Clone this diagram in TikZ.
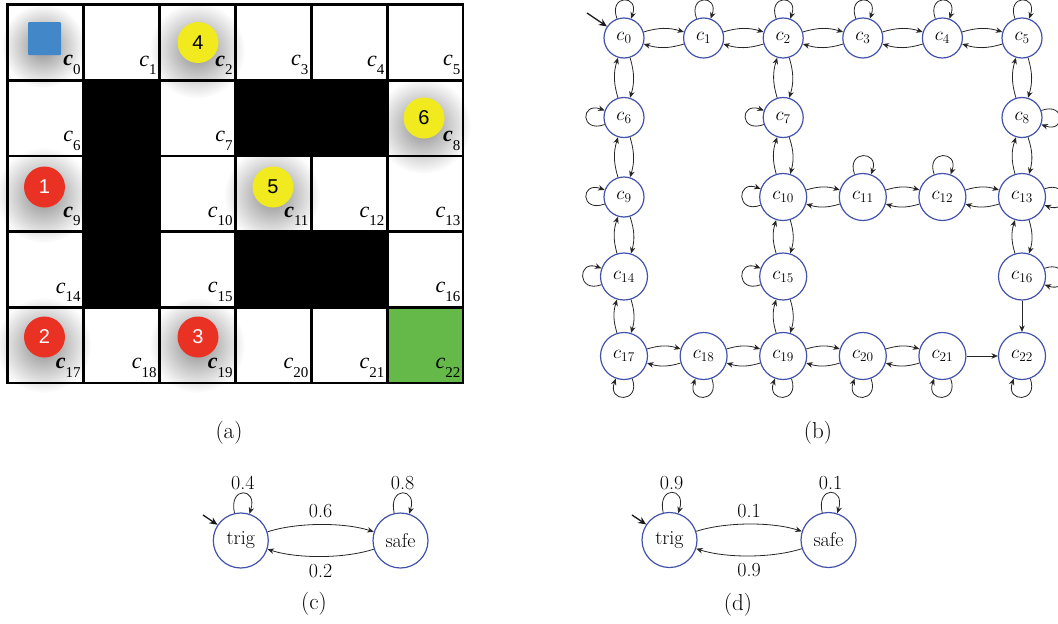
\RequirePackage{fix-cm}
\documentclass[tikz,border=0pt]{standalone}
\usepackage{fontspec}
\newfontfamily\tms{Liberation Serif}
\newfontfamily\sanf{Liberation Sans}
\usetikzlibrary{arrows.meta,fadings}
\definecolor{stblue}{RGB}{66,82,170}
\definecolor{tokred}{RGB}{234,50,36}
\definecolor{tokyel}{RGB}{240,234,30}
\definecolor{tokblue}{RGB}{66,136,200}
\definecolor{goalgreen}{RGB}{100,185,72}
\tikzfading[name=shadowfade, inner color=transparent!0, outer color=transparent!100]
\newcommand\glabtext[2]{{\tms\fontsize{22}{22}\selectfont#2\itshape c\raisebox{-8.5pt}{\fontsize{15}{15}\selectfont\mdseries\upshape #1}}}
\tikzset{
  gridline/.style={line width=2.8pt, line cap=rect},
  st/.style={circle, draw=stblue, line width=1.2pt, minimum size=40pt, inner sep=0pt, font=\fontsize{19}{23}\selectfont},
  stt/.style={st, minimum size=47pt},
  big/.style={circle, draw=stblue, line width=1.2pt, minimum size=55pt, inner sep=0pt, font=\fontsize{20}{24}\selectfont},
  tr/.style={-{Stealth[length=6.5pt,width=5.5pt]}, line width=0.8pt, draw=black!85},
  initarr/.style={-{Stealth[length=8pt,width=7pt]}, line width=1.3pt, draw=black!90},
  la/.style={out=110, in=70, distance=26pt},
  ll/.style={out=200, in=160, distance=26pt},
  lr/.style={out=20, in=-20, distance=26pt},
  lb/.style={out=-70, in=250, distance=26pt},
  lbig/.style={out=103, in=72, distance=28pt},
  prob/.style={font=\fontsize{20}{24}\selectfont, inner sep=3pt},
  capt/.style={font=\fontsize{23}{27}\selectfont},
  token/.style={circle, minimum size=41pt, inner sep=0pt, font=\sanf\fontsize{20}{24}\selectfont},
  shad/.style={black, opacity=0.45, path fading=shadowfade}
}
\begin{document}
\begin{tikzpicture}[x=1pt,y=1pt]
\useasboundingbox (0,0) rectangle (1058,-624);
% ---------------- (a) grid world ----------------
% shadows
\fill[shad] (43,-46) circle (42);
\foreach \x/\y in {198/-42.5, 424/-118, 44.5/-187, 273/-187, 44.5/-337, 198/-337}
  \fill[shad] (\x-1,\y-8) circle (48);
% obstacles and goal
\foreach \r/\c in {1/1,2/1,3/1,1/3,1/4,3/3,3/4}
  \fill[black] ({7.5+75.92*\c},{-4.5-75.7*\r}) rectangle ({7.5+75.92*(\c+1)},{-4.5-75.7*(\r+1)});
\fill[goalgreen] ({7.5+75.92*5},{-4.5-75.7*4}) rectangle ({7.5+75.92*6},{-4.5-75.7*5});
% grid lines
\foreach \i in {0,...,6}
  \draw[gridline] ({7.5+75.92*\i},-4.5) -- ({7.5+75.92*\i},-383);
\foreach \j in {0,...,5}
  \draw[gridline] (7.5,{-4.5-75.7*\j}) -- (463,{-4.5-75.7*\j});
% tokens
\node[fill=tokblue, minimum size=33pt, inner sep=0pt, rounded corners=1pt] (robot) at (44.5,-38.5) {};
\node[token, fill=tokyel] (k4) at (198,-42.5) {4};
\node[token, fill=tokyel] (k6) at (424,-118) {6};
\node[token, fill=tokred, text=white] (k1) at (44.5,-187) {1};
\node[token, fill=tokyel] (k5) at (273,-187) {5};
\node[token, fill=tokred, text=white] (k2) at (44.5,-337) {2};
\node[token, fill=tokred, text=white] (k3) at (198,-337) {3};
% cell labels
\foreach \r/\c/\n/\w in {0/0/0/\bfseries, 0/1/1/, 0/2/2/\bfseries, 0/3/3/, 0/4/4/, 0/5/5/,
  1/0/6/, 1/2/7/, 1/5/8/\bfseries,
  2/0/9/\bfseries, 2/2/10/, 2/3/11/\bfseries, 2/4/12/, 2/5/13/,
  3/0/14/, 3/2/15/, 3/5/16/,
  4/0/17/\bfseries, 4/1/18/, 4/2/19/\bfseries, 4/3/20/, 4/4/21/, 4/5/22/}
  \node[anchor=south east, inner sep=0pt] (g\n) at ({7.5+75.92*(\c+1)-2.5},{-4.5-75.7*(\r+1)+5.5}) {\glabtext{\n}{\w}};
\node[capt] (capa) at (229,-433) {(a)};
% ---------------- (b) transition graph ----------------
\node[st]  (c0)  at (624,-38) {$c_{0}$};
\node[st]  (c1)  at (703.6,-38) {$c_{1}$};
\node[st]  (c2)  at (783.2,-38) {$c_{2}$};
\node[st]  (c3)  at (862.8,-38) {$c_{3}$};
\node[st]  (c4)  at (942.4,-38) {$c_{4}$};
\node[st]  (c5)  at (1022,-38) {$c_{5}$};
\node[st]  (c6)  at (624,-117.5) {$c_{6}$};
\node[st]  (c7)  at (783.2,-117.5) {$c_{7}$};
\node[st]  (c8)  at (1022,-117.5) {$c_{8}$};
\node[st]  (c9)  at (624,-197) {$c_{9}$};
\node[stt] (c10) at (783.2,-197) {$c_{10}$};
\node[stt] (c11) at (862.8,-197) {$c_{11}$};
\node[stt] (c12) at (942.4,-197) {$c_{12}$};
\node[stt] (c13) at (1022,-197) {$c_{13}$};
\node[stt] (c14) at (624,-276.5) {$c_{14}$};
\node[stt] (c15) at (783.2,-276.5) {$c_{15}$};
\node[stt] (c16) at (1022,-276.5) {$c_{16}$};
\node[stt] (c17) at (624,-356) {$c_{17}$};
\node[stt] (c18) at (703.6,-356) {$c_{18}$};
\node[stt] (c19) at (783.2,-356) {$c_{19}$};
\node[stt] (c20) at (862.8,-356) {$c_{20}$};
\node[stt] (c21) at (942.4,-356) {$c_{21}$};
\node[stt] (c22) at (1022,-356) {$c_{22}$};
\foreach \a/\b in {c0/c1,c1/c2,c2/c3,c3/c4,c4/c5,c10/c11,c11/c12,c12/c13,
  c17/c18,c18/c19,c19/c20,c20/c21,
  c0/c6,c6/c9,c9/c14,c14/c17,c2/c7,c7/c10,c10/c15,c15/c19,c5/c8,c8/c13,c13/c16}
{
  \draw[tr] (\a) to[bend left=17] (\b);
  \draw[tr] (\b) to[bend left=17] (\a);
}
\draw[tr] (c21) -- (c22);
\draw[tr] (c16) -- (c22);
\foreach \n in {c0,c1,c2,c3,c4,c5,c11,c12} \draw[tr] (\n.110) to[la] (\n.70);
\foreach \n in {c6,c7,c9,c10,c14,c15} \draw[tr] (\n.200) to[ll] (\n.160);
\foreach \n in {c8,c13,c16} \draw[tr] (\n.20) to[lr] (\n.-20);
\foreach \n in {c17,c18,c19,c20,c21,c22} \draw[tr] (\n.-70) to[lb] (\n.250);
\coordinate (i0) at (587,-13);
\draw[initarr] (i0) -- (c0);
\node[capt] (capb) at (818,-433) {(b)};
% ---------------- (c) ----------------
\node[big] (t1) at (240.8,-540.5) {trig};
\node[big] (s1) at (400.5,-540.5) {safe};
\draw[tr] (t1) to[bend left=18, looseness=0.75] node[prob, above=3pt] {0.6} (s1);
\draw[tr] (s1) to[bend left=18, looseness=0.75] node[prob, below=4pt] {0.2} (t1);
\draw[tr] (t1.103) to[lbig] node[prob, above] {0.4} (t1.72);
\draw[tr] (s1.103) to[lbig] node[prob, above] {0.8} (s1.72);
\coordinate (it1) at (203,-515);
\draw[initarr] (it1) -- (t1);
\node[capt] (capc) at (314,-604) {(c)};
% ---------------- (d) ----------------
\node[big] (t2) at (669.5,-540) {trig};
\node[big] (s2) at (828.5,-540) {safe};
\draw[tr] (t2) to[bend left=18, looseness=0.75] node[prob, above=3pt] {0.1} (s2);
\draw[tr] (s2) to[bend left=18, looseness=0.75] node[prob, below=4pt] {0.9} (t2);
\draw[tr] (t2.103) to[lbig] node[prob, above] {0.9} (t2.72);
\draw[tr] (s2.103) to[lbig] node[prob, above] {0.1} (s2.72);
\coordinate (it2) at (632,-515);
\draw[initarr] (it2) -- (t2);
\node[capt] (capd) at (738,-605) {(d)};
\end{tikzpicture}
\end{document}
